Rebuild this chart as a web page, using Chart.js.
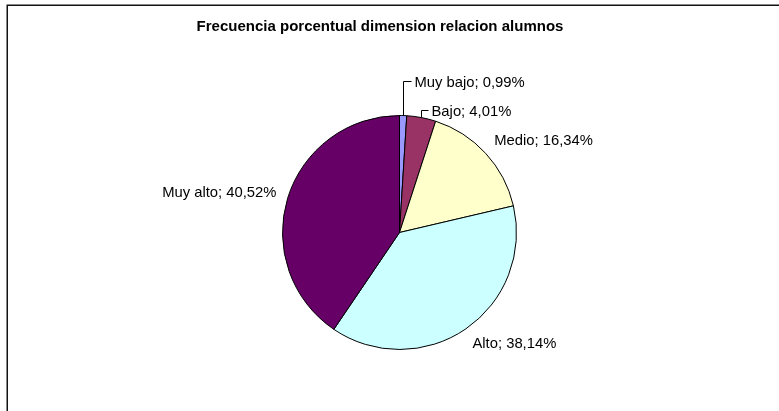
<!DOCTYPE html>
<html>
<head>
<meta charset="utf-8">
<script src="https://cdn.jsdelivr.net/npm/chart.js@4"></script>
<style>
  html, body { margin: 0; padding: 0; background: #fff; }
  #wrap { width: 779px; height: 411px; }
</style>
</head>
<body>
<div id="wrap"><canvas id="pieChart" width="779" height="411"></canvas></div>
<script>
// Données
var categories = ['Muy bajo', 'Bajo', 'Medio', 'Alto', 'Muy alto'];
var percents = [0.99, 4.01, 16.34, 38.14, 40.52];
var sliceColors = ['#9999FF', '#993366', '#FFFFCC', '#CCFFFF', '#660066'];
var chartTitle = 'Frecuencia porcentual dimension relacion alumnos';

var FONT = '"Liberation Sans", Arial, sans-serif';

// small slices get an elbow leader line (rise above pie top, horizontal run)
var leaders = {
    0: { rise: -34.5, run: 8 },
    1: { rise: -5.5, run: 7 }
};

function fmtPct(v) {
    return v.toFixed(2).replace('.', ',') + '%';
}

// Frame + title + labels
var excelDecor = {
    id: 'excelDecor',
    beforeDraw: function(chart) {
        var ctx = chart.ctx;
        ctx.save();
        ctx.fillStyle = '#fff';
        ctx.fillRect(0, 0, chart.width, chart.height);
        // only top and left edges of the frame are visible
        ctx.strokeStyle = '#111';
        ctx.lineWidth = 1.5;
        ctx.beginPath();
        ctx.moveTo(7.25, chart.height);
        ctx.lineTo(7.25, 5.25);
        ctx.lineTo(chart.width, 5.25);
        ctx.stroke();
        ctx.restore();
    },
    afterDatasetsDraw: function(chart) {
        var ctx = chart.ctx;
        ctx.save();
        ctx.fillStyle = '#000';
        ctx.font = 'bold 15px ' + FONT;
        ctx.textAlign = 'center';
        ctx.textBaseline = 'middle';
        ctx.fillText(chartTitle, 380, 27);

        ctx.font = '14.8px ' + FONT;
        ctx.strokeStyle = '#000';
        ctx.lineWidth = 1;
        var meta = chart.getDatasetMeta(0);
        meta.data.forEach(function(arc, i) {
            var p = arc.getProps(['x', 'y', 'startAngle', 'endAngle', 'outerRadius'], true);
            var mid = (p.startAngle + p.endAngle) / 2;
            var txt = categories[i] + '; ' + fmtPct(percents[i]);
            var lead = leaders[i];
            if (lead) {
                var ax = p.x + Math.cos(mid) * p.outerRadius;
                var ay = p.y + Math.sin(mid) * p.outerRadius;
                var ey = Math.round(p.y - p.outerRadius + lead.rise) + 0.5;
                var lx = Math.round(ax) + 0.5;
                ctx.beginPath();
                ctx.moveTo(lx, ay);
                ctx.lineTo(lx, ey);
                ctx.lineTo(lx + lead.run, ey);
                ctx.stroke();
                ctx.textAlign = 'left';
                ctx.fillText(txt, lx + lead.run + 3, ey + 1);
            } else {
                var tx = p.x + Math.cos(mid) * p.outerRadius * 1.1;
                var ty = p.y + Math.sin(mid) * p.outerRadius * 1.16;
                ctx.textAlign = Math.cos(mid) >= 0 ? 'left' : 'right';
                ctx.fillText(txt, tx, ty);
            }
        });
        ctx.restore();
    }
};

var ctx = document.getElementById('pieChart');
var myChart = new Chart(ctx, {
    type: 'pie',
    data: {
        labels: categories,
        datasets: [{
            data: percents,
            backgroundColor: sliceColors,
            borderColor: '#000',
            borderWidth: 1
        }]
    },
    options: {
        responsive: false,
        animation: false,
        events: [],
        layout: {
            padding: { left: 282, right: 262, top: 115, bottom: 61 }
        },
        plugins: {
            legend: { display: false },
            tooltip: { enabled: false },
            title: { display: false }
        }
    },
    plugins: [excelDecor]
});
</script>
</body>
</html>
